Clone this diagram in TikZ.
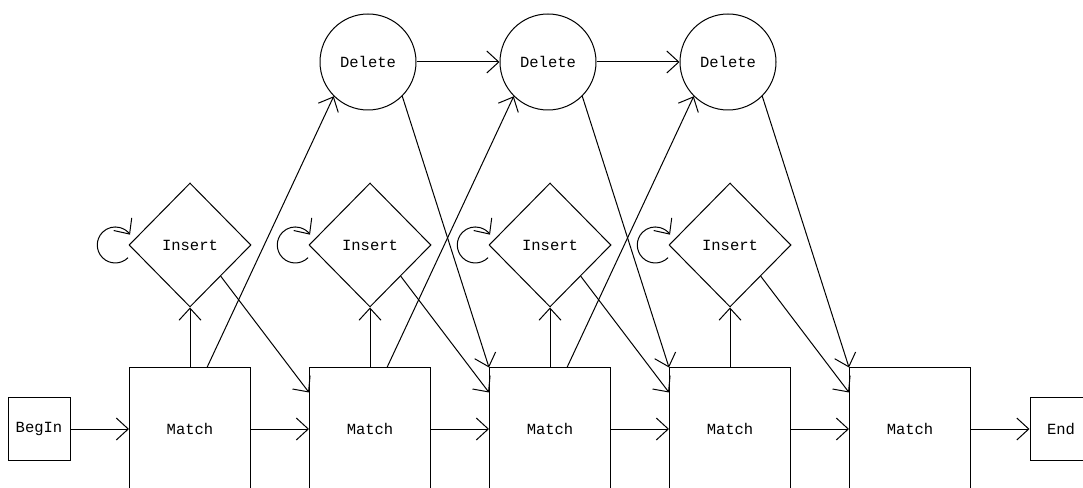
\documentclass[tikz,border=0pt]{standalone}
\usepackage{fontspec}
\setmonofont{Liberation Mono}
\usetikzlibrary{shapes.geometric,arrows.meta}
\begin{document}
\begin{tikzpicture}[
  x=1pt, y=1pt,
  font=\ttfamily\fontsize{15.5}{18}\selectfont,
  state/.style={draw, line width=1pt, inner sep=0pt},
  arr/.style={-{Straight Barb[length=12pt,width=22pt]}, line width=1pt},
  termbox/.style={state, rectangle, minimum width=62pt, minimum height=62pt},
  matchbox/.style={state, rectangle, minimum width=121pt, minimum height=122pt},
  insertbox/.style={state, diamond, minimum width=122pt, minimum height=124pt},
  deletebox/.style={state, circle, minimum size=96pt},
]
\useasboundingbox (0,0) rectangle (1083,487);
\clip (0,0) rectangle (1083,487);

% match states along the bottom row
\node[termbox] (begin) at (39,58) {BegIn};
\foreach \i/\x in {1/190,2/370,3/550,4/730,5/910}
  \node[matchbox] (m\i) at (\x,58) {Match};
\node[termbox] (end) at (1061,58) {End};

% insert states
\foreach \i/\x in {1/190,2/370,3/550,4/730}
  \node[insertbox] (ins\i) at (\x,242) {Insert};

% delete states
\foreach \i/\x in {1/368,2/548,3/728}
  \node[deletebox] (del\i) at (\x,425) {Delete};

% match -> match chain
\draw[arr] (begin.east) -- (m1.west);
\foreach \i/\j in {1/2,2/3,3/4,4/5}
  \draw[arr] (m\i.east) -- (m\j.west);
\draw[arr] (m5.east) -- (end.west);

% match -> insert
\foreach \i in {1,...,4}
  \draw[arr] (m\i.north) -- (ins\i.south);

% insert -> next match
\foreach \i/\j in {1/2,2/3,3/4,4/5}
  \draw[arr] (ins\i.south east) -- ([yshift=-25pt]m\j.north west);

% insert self loops
\foreach \i in {1,...,4}
  \draw[arr] ([shift={(-0.5,-12.7)}]ins\i.west)
    arc[start angle=-45, end angle=-325, radius=18];

% match -> delete
\foreach \i in {1,2,3}
  \draw[arr] ([xshift=17pt]m\i.north) -- (del\i.225);

% delete -> delete
\draw[arr] (del1.east) -- (del2.west);
\draw[arr] (del2.east) -- (del3.west);

% delete -> match
\foreach \i/\j in {1/3,2/4,3/5}
  \draw[arr] (del\i.-45) -- (m\j.north west);
\end{tikzpicture}
\end{document}
